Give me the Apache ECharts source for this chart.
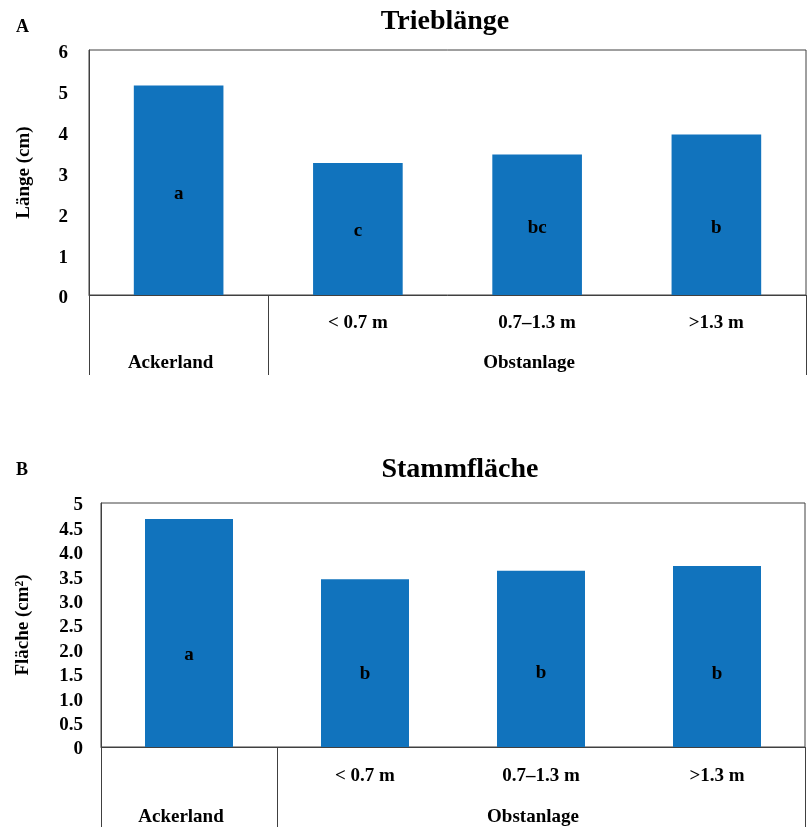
<!DOCTYPE html>
<html><head><meta charset="utf-8">
<script src="https://cdn.jsdelivr.net/npm/echarts@6/dist/echarts.min.js"></script>
<style>html,body{margin:0;padding:0;background:#fff}#c{width:811px;height:827px}</style>
</head><body><div id="c"></div>
<script>
// ---- data ----
const subCategories = ['', '< 0.7 m', '0.7–1.3 m', '>1.3 m'];
const groupLabels = ['Ackerland', '', 'Obstanlage', ''];
const triebValues = [5.13, 3.23, 3.44, 3.93];
const triebLetters = ['a', 'c', 'bc', 'b'];
const stammValues = [4.67, 3.44, 3.61, 3.71];
const stammLetters = ['a', 'b', 'b', 'b'];
const triebTicks = ['0', '1', '2', '3', '4', '5', '6'];
const stammTicks = ['0', '0.5', '1.0', '1.5', '2.0', '2.5', '3.0', '3.5', '4.0', '4.5', '5'];

// ---- styling ----
const FONT = "'Liberation Serif', 'DejaVu Serif', serif";
const LINE = '#404040';
const BAR = '#1173bd';
const triebLetterOffsets = [4, 2, 3, 13];
const stammLetterOffsets = [22, 11, 14, 18];
const txt = { fontFamily: FONT, fontWeight: 'bold', fontSize: 19, color: '#000' };

function xAxes(gi, subMargin, groupMargin) {
  return [
    {
      gridIndex: gi, type: 'category', data: subCategories, position: 'bottom',
      axisLine: { lineStyle: { color: LINE, width: 1 } },
      axisTick: { show: true, length: 80, interval: (i) => i <= 1, lineStyle: { color: LINE, width: 1 } },
      axisLabel: Object.assign({ margin: subMargin, interval: 0 }, txt)
    },
    {
      gridIndex: gi, type: 'category', data: groupLabels, position: 'bottom',
      axisLine: { show: false }, axisTick: { show: false },
      axisLabel: Object.assign({ margin: groupMargin, interval: 0, padding: [0, 16, 0, 0] }, txt)
    }
  ];
}

function barSeries(xi, yi, values, letters, offs) {
  return {
    type: 'bar', xAxisIndex: xi, yAxisIndex: yi, barWidth: '50%',
    itemStyle: { color: BAR },
    data: values.map((v, i) => ({ value: v, label: { offset: [0, offs[i]] } })),
    label: Object.assign({ show: true, position: 'inside', formatter: (p) => letters[p.dataIndex] }, txt),
    silent: true
  };
}

const option = {
  animation: false,
  backgroundColor: '#fff',
  title: [
    { text: 'A', left: 11, top: 13, textStyle: { fontFamily: FONT, fontWeight: 'bold', fontSize: 18, color: '#000' } },
    { text: 'Trieblänge', left: 440, top: 3, textAlign: 'center', textStyle: { fontFamily: FONT, fontWeight: 'bold', fontSize: 28, color: '#000' } },
    { text: 'B', left: 11, top: 456, textStyle: { fontFamily: FONT, fontWeight: 'bold', fontSize: 18, color: '#000' } },
    { text: 'Stammfläche', left: 455, top: 451, textAlign: 'center', textStyle: { fontFamily: FONT, fontWeight: 'bold', fontSize: 28, color: '#000' } }
  ],
  grid: [
    { left: 89, top: 50, right: 5, height: 245, show: true, borderColor: LINE, borderWidth: 1, containLabel: false },
    { left: 101, top: 503, right: 6, height: 244, show: true, borderColor: LINE, borderWidth: 1, containLabel: false }
  ],
  xAxis: xAxes(0, 19, 59).concat(xAxes(1, 20, 61)),
  yAxis: [
    {
      gridIndex: 0, type: 'value', min: 0, max: 6, interval: 1,
      name: 'Länge (cm)', nameLocation: 'middle', nameGap: 55,
      nameTextStyle: txt,
      axisLine: { show: true, lineStyle: { color: LINE } }, axisTick: { show: false },
      splitLine: { show: false },
      axisLabel: Object.assign({ margin: 21, verticalAlign: 'top', lineHeight: 7, formatter: (v) => triebTicks[Math.round(v)] }, txt)
    },
    {
      gridIndex: 1, type: 'value', min: 0, max: 5, interval: 0.5,
      name: 'Fläche (cm²)', nameLocation: 'middle', nameGap: 68,
      nameTextStyle: txt,
      axisLine: { show: true, lineStyle: { color: LINE } }, axisTick: { show: false },
      splitLine: { show: false },
      axisLabel: Object.assign({ margin: 18, verticalAlign: 'top', lineHeight: 5, formatter: (v) => stammTicks[Math.round(v / 0.5)] }, txt)
    }
  ],
  series: [
    barSeries(0, 0, triebValues, triebLetters, triebLetterOffsets),
    barSeries(2, 1, stammValues, stammLetters, stammLetterOffsets)
  ]
};
const chart = echarts.init(document.getElementById('c'), null, { renderer: 'canvas' });
chart.setOption(option);
</script></body></html>
